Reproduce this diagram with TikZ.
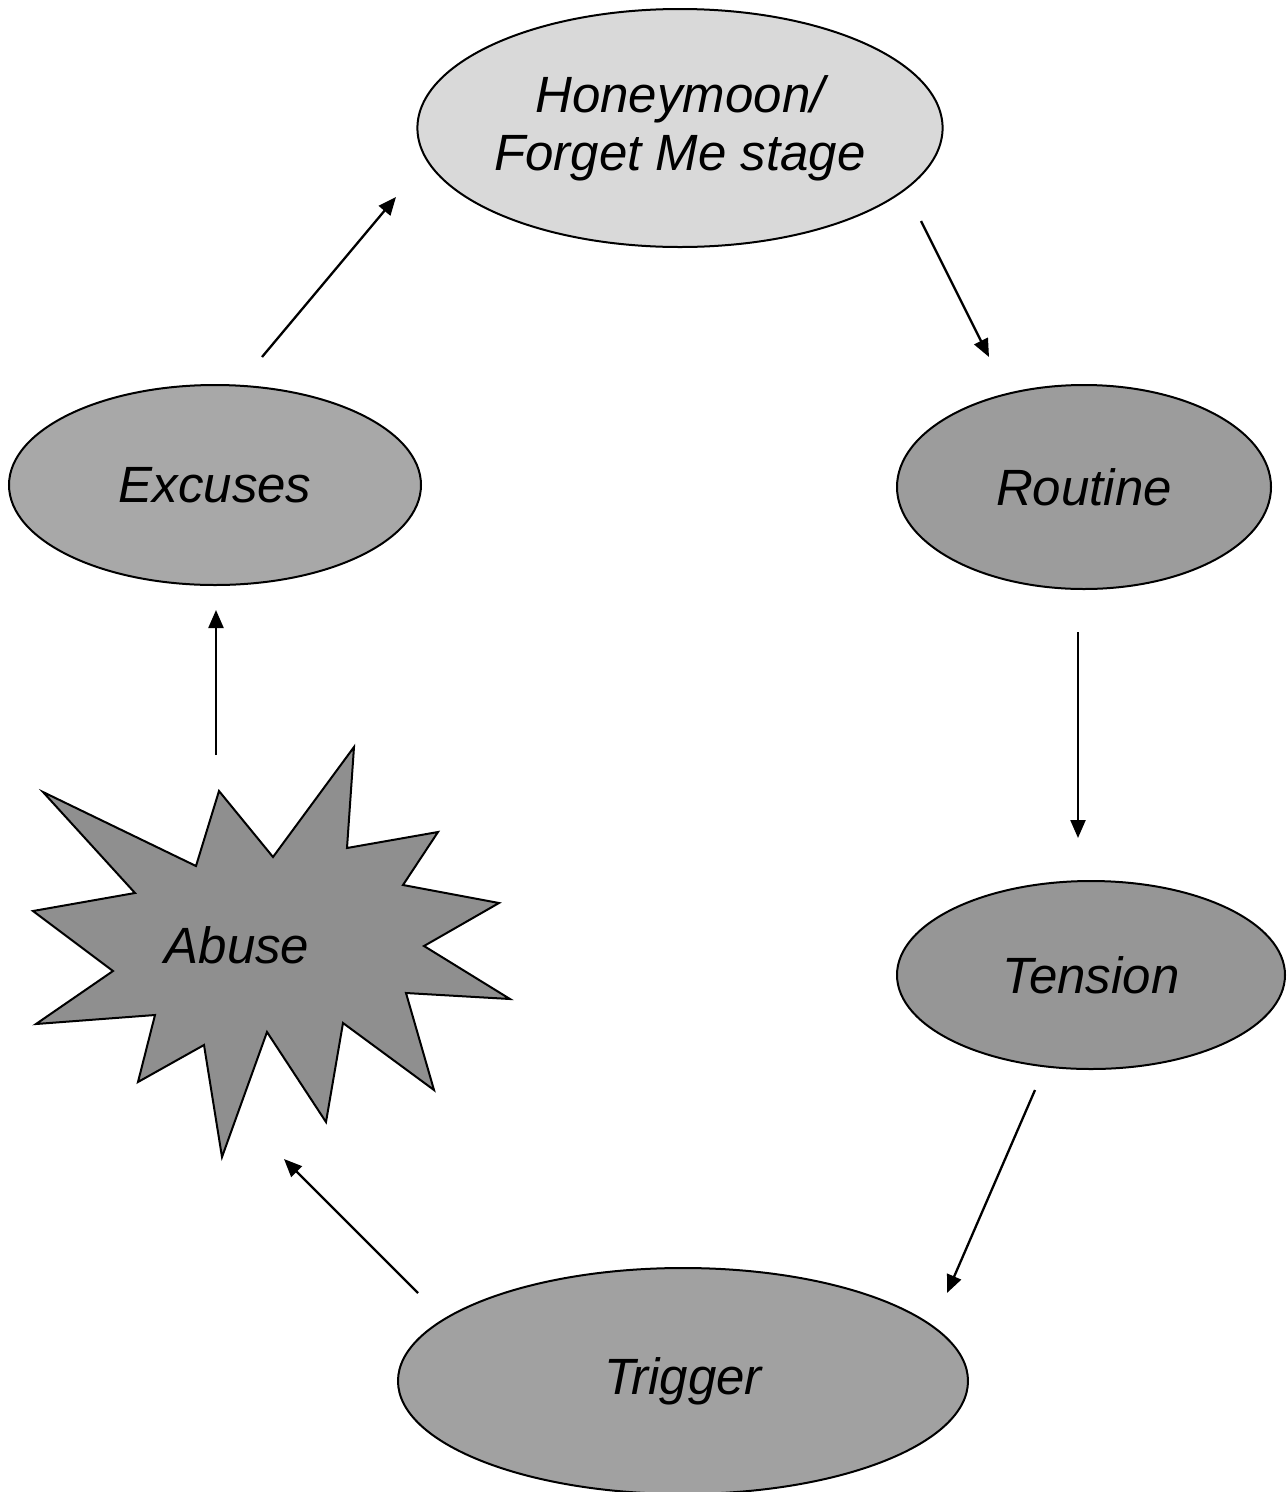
\documentclass[tikz,border=0pt]{standalone}
\usepackage{fontspec}
\setmainfont{Liberation Sans}
\usetikzlibrary{shapes.geometric, arrows.meta}
\definecolor{hmgray}{gray}{0.85}
\definecolor{exgray}{gray}{0.66}
\definecolor{rtgray}{gray}{0.61}
\definecolor{tngray}{gray}{0.59}
\definecolor{trgray}{gray}{0.63}
\definecolor{abgray}{gray}{0.56}
\tikzset{
  stage/.style = {shape=ellipse, draw, line width=2pt, inner sep=0pt,
                  align=center, font=\fontsize{51}{58}\selectfont\itshape},
  hmstage/.style = {stage, fill=hmgray},
  exstage/.style = {stage, fill=exgray},
  rtstage/.style = {stage, fill=rtgray},
  tnstage/.style = {stage, fill=tngray},
  trstage/.style = {stage, fill=trgray},
  burst/.style = {draw, line width=2pt, fill=abgray, line join=miter},
  flow/.style = {draw, line width=2.3pt, -{Triangle[length=18pt,width=15pt]}}
}
\begin{document}
\begin{tikzpicture}[x=1pt, y=-1pt]
  \useasboundingbox (0,0) rectangle (1288,1492);

  % stages of the cycle
  \node[hmstage, minimum width=522pt, minimum height=238pt] (hm) at (680,128)
    {Honeymoon/\\Forget Me stage};
  \node[exstage, minimum width=412pt, minimum height=200pt] (ex) at (215,485) {Excuses};
  \node[rtstage, minimum width=374pt, minimum height=204pt] (rt) at (1084,487) {Routine};
  \node[tnstage, minimum width=388pt, minimum height=188pt] (tn) at (1091,975) {Tension};
  \node[trstage, minimum width=570pt, minimum height=226pt] (tr) at (683,1381) {Trigger};

  % the abuse burst
  \draw[burst] (43,792) -- (196,866) -- (219,791) -- (273,857) -- (354,747)
    -- (347,848) -- (438,832) -- (403,885) -- (499,903) -- (424,946)
    -- (510,999) -- (406,993) -- (434,1090) -- (343,1023) -- (326,1122)
    -- (267,1032) -- (222,1157) -- (204,1045) -- (138,1082) -- (155,1015)
    -- (36,1024) -- (113,971) -- (33,911) -- (135,893) -- cycle;
  \node[font=\fontsize{51}{58}\selectfont\itshape] (ab) at (237,945) {Abuse};

  % arrow ends
  \coordinate (ex-out) at (262,357);
  \coordinate (hm-in) at (396,197);
  \coordinate (hm-out) at (921,221);
  \coordinate (rt-in) at (989,357);
  \coordinate (rt-out) at (1078,632);
  \coordinate (tn-in) at (1078,838);
  \coordinate (tn-out) at (1035,1090);
  \coordinate (tr-in) at (947,1293);
  \coordinate (tr-out) at (418,1293);
  \coordinate (ab-in) at (284,1159);
  \coordinate (ab-out) at (216,755);
  \coordinate (ex-in) at (216,610);

  \draw[flow] (ex-out) -- (hm-in);
  \draw[flow] (hm-out) -- (rt-in);
  \draw[flow] (rt-out) -- (tn-in);
  \draw[flow] (tn-out) -- (tr-in);
  \draw[flow] (tr-out) -- (ab-in);
  \draw[flow] (ab-out) -- (ex-in);
\end{tikzpicture}
\end{document}
